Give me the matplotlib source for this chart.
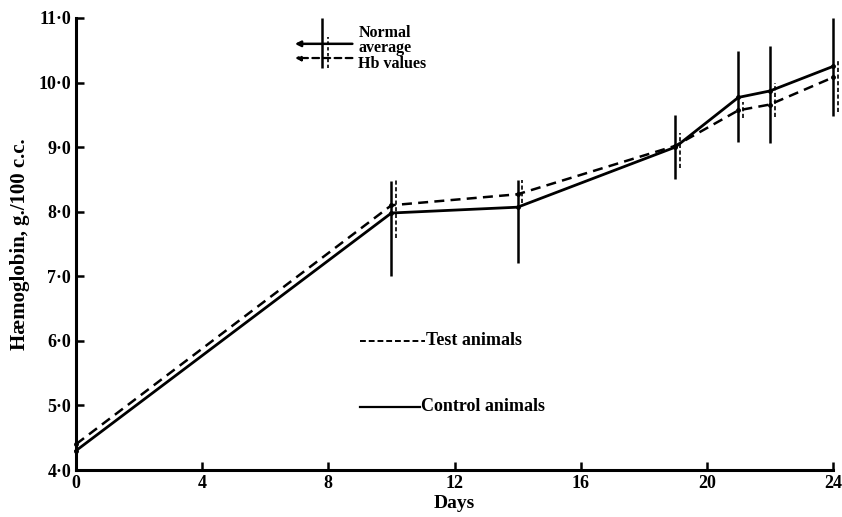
import matplotlib.pyplot as plt

# values
days = [0, 10, 14, 19, 21, 22, 24]
control = [4.3, 7.98, 8.07, 9.0, 9.77, 9.87, 10.25]
test = [4.4, 8.1, 8.27, 9.02, 9.57, 9.66, 10.08]

control_lo = [None, 7.0, 7.2, 8.5, 9.08, 9.06, 9.48]
control_hi = [None, 8.47, 8.49, 9.5, 10.49, 10.56, 11.0]
test_lo = [None, 7.6, 8.13, 8.67, 9.45, 9.46, 9.54]
test_hi = [None, 8.49, 8.49, 9.22, 9.7, 9.99, 10.35]

yticks = [4, 5, 6, 7, 8, 9, 10, 11]
ytick_labels = ["4\u00b70", "5\u00b70", "6\u00b70", "7\u00b70", "8\u00b70", "9\u00b70", "10\u00b70", "11\u00b70"]
xticks = [0, 4, 8, 12, 16, 20, 24]

plt.rcParams['font.family'] = ['Liberation Serif', 'DejaVu Serif']

fig = plt.figure(figsize=(8.42, 5.17), dpi=100)
ax = fig.add_axes([0.0903, 0.0909, 0.899, 0.8743])

ax.plot(days, control, color='black', lw=2.0, marker='o', ms=2.5, clip_on=False)
ax.plot(days, test, color='black', lw=1.8, ls=(0, (4, 2.5)), marker='o', ms=2.5, clip_on=False)

# range bars
for d, lo, hi in zip(days, control_lo, control_hi):
    if lo is not None:
        ax.vlines(d, lo, hi, color='black', lw=1.8, clip_on=False)
for d, lo, hi in zip(days, test_lo, test_hi):
    if lo is not None:
        ax.vlines(d + 0.15, lo, hi, color='black', lw=1.2, linestyles=(0, (2.5, 1.5)), clip_on=False)

# "normal average Hb values" key
ax.annotate('', xy=(6.85, 10.6), xytext=(8.85, 10.6),
            arrowprops=dict(arrowstyle='-|>', color='black', lw=1.8, mutation_scale=8))
ax.annotate('', xy=(6.85, 10.38), xytext=(8.85, 10.38),
            arrowprops=dict(arrowstyle='-|>', color='black', lw=1.6, ls=(0, (3, 2)), mutation_scale=8))
ax.vlines(7.8, 10.22, 11.0, color='black', lw=1.8)
ax.vlines(8.0, 10.22, 10.7, color='black', lw=1.2, linestyles=(0, (2, 1.5)))
ax.text(8.95, 10.77, "Normal", fontsize=11.5, fontweight='bold', va='center')
ax.text(8.95, 10.54, "average", fontsize=11.5, fontweight='bold', va='center')
ax.text(8.95, 10.29, "Hb values", fontsize=11.5, fontweight='bold', va='center')

# series key
ax.plot([9.0, 11.05], [6.0, 6.0], color='black', lw=1.4, ls=(0, (3, 1.5)))
ax.text(11.1, 6.0, "Test animals", fontsize=13, fontweight='bold', va='center')
ax.plot([9.0, 10.9], [4.98, 4.98], color='black', lw=1.6)
ax.text(10.95, 4.98, "Control animals", fontsize=13, fontweight='bold', va='center')

ax.set_xlim(0, 24)
ax.set_ylim(4, 11)
ax.set_xticks(xticks)
ax.set_yticks(yticks)
ax.set_yticklabels(ytick_labels)
ax.tick_params(direction='in', length=6, width=1.8, labelsize=13)
for lab in ax.get_xticklabels() + ax.get_yticklabels():
    lab.set_fontweight('bold')

ax.spines['top'].set_visible(False)
ax.spines['right'].set_visible(False)
ax.spines['left'].set_linewidth(2.2)
ax.spines['bottom'].set_linewidth(2.2)

ax.set_xlabel("Days", fontsize=14, fontweight='bold', labelpad=2)
ax.set_ylabel("H\u00e6moglobin, g./100 c.c.", fontsize=15, fontweight='bold', labelpad=6)

plt.savefig("out.png", dpi=100)
